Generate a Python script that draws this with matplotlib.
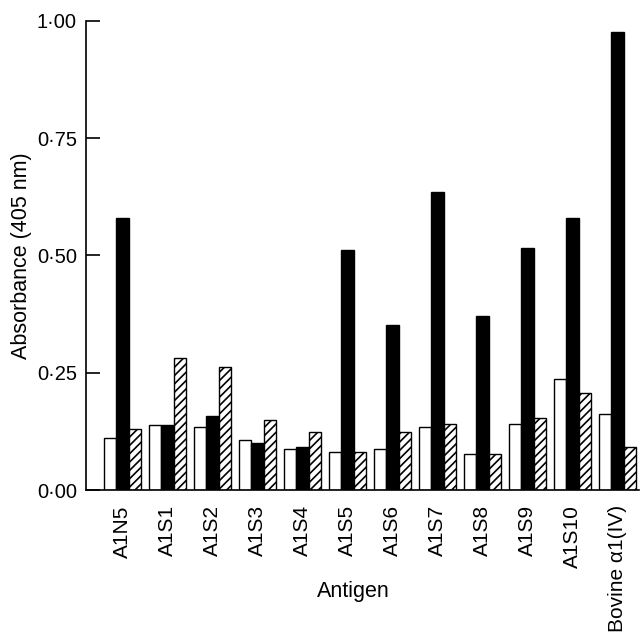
import matplotlib
matplotlib.use('Agg')
import matplotlib.pyplot as plt
import numpy as np

plt.rcParams['font.family'] = ['Liberation Sans', 'DejaVu Sans']
plt.rcParams['hatch.linewidth'] = 1.2

antigens = ['A1N5', 'A1S1', 'A1S2', 'A1S3', 'A1S4', 'A1S5', 'A1S6',
            'A1S7', 'A1S8', 'A1S9', 'A1S10', 'Bovine α1(IV)']
# three series per antigen: open, solid, hatched
open_vals = [0.110, 0.138, 0.135, 0.107, 0.087, 0.082, 0.087, 0.135, 0.076, 0.141, 0.237, 0.163]
solid_vals = [0.580, 0.138, 0.157, 0.101, 0.092, 0.512, 0.351, 0.635, 0.371, 0.516, 0.579, 0.975]
hatch_vals = [0.129, 0.281, 0.262, 0.150, 0.123, 0.082, 0.124, 0.141, 0.077, 0.153, 0.206, 0.091]
yticks = [0.0, 0.25, 0.5, 0.75, 1.0]
ytick_labels = ['0·00', '0·25', '0·50', '0·75', '1·00']

fig = plt.figure(figsize=(6.43, 6.33), dpi=100)
ax = fig.add_axes([86/643, 1 - 490/633, (639-86)/643, (490-20.7)/633])

x = np.arange(len(antigens))
w = 0.274
ax.bar(x - w, open_vals, w, color='white', edgecolor='black', linewidth=1)
ax.bar(x, solid_vals, w, color='black', edgecolor='black', linewidth=1)
ax.bar(x + w, hatch_vals, w, color='white', edgecolor='black', linewidth=1, hatch='////')

ax.set_xlim(-0.811, 11.478)
ax.set_ylim(0, 1.0)
ax.set_yticks(yticks)
ax.set_yticklabels(ytick_labels, fontsize=14.5)
ax.set_xticks(x)
ax.set_xticklabels(antigens, rotation=90, fontsize=15, va='top')
ax.tick_params(axis='x', length=0, pad=11)
ax.tick_params(axis='y', direction='in', length=10, width=1.2, pad=6.5)

for s in ['top', 'right']:
    ax.spines[s].set_visible(False)
for s in ['left', 'bottom']:
    ax.spines[s].set_linewidth(1.2)

ax.set_ylabel('Absorbance (405 nm)', fontsize=15.5)
ax.yaxis.set_label_coords(-0.098, 0.5)
ax.set_xlabel('Antigen', fontsize=15.5)
ax.xaxis.set_label_coords(0.483, -0.193)

fig.savefig('out.png', dpi=100)
